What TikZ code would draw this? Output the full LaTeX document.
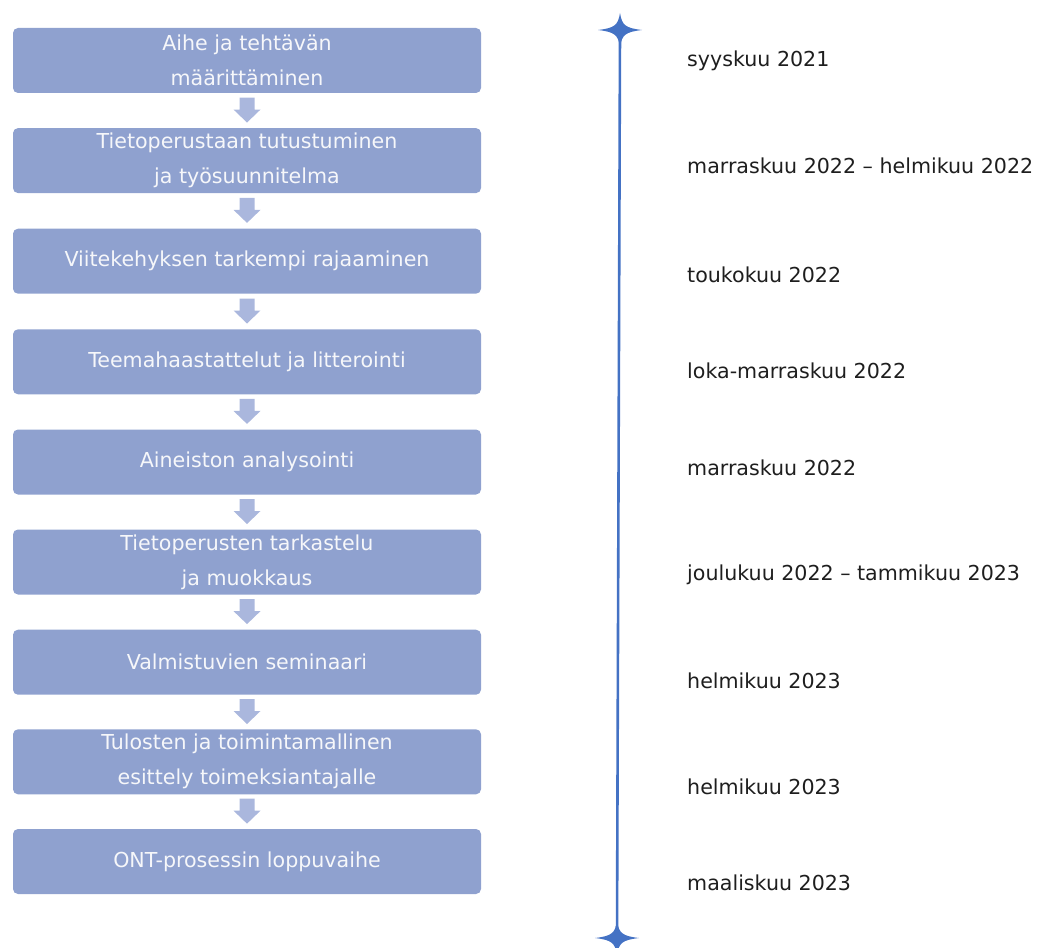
\documentclass[tikz,border=0pt]{standalone}
\usepackage{fontspec}
\setmainfont{DejaVu Sans}
\usetikzlibrary{calc}

\definecolor{boxfill}{RGB}{143,161,207}
\definecolor{arrowfill}{RGB}{170,183,221}
\definecolor{boxtext}{RGB}{246,247,250}
\definecolor{timeline}{RGB}{68,114,196}
\definecolor{datetext}{RGB}{30,30,30}

\tikzset{
  stepbox/.style={draw=none, fill=boxfill, rounded corners=5pt,
    minimum width=468pt, minimum height=65pt, inner sep=0pt,
    align=center, text=boxtext,
    font=\fontsize{20.6}{35}\selectfont},
  datelabel/.style={anchor=base west, inner sep=0pt, text=datetext,
    font=\fontsize{20.6}{25}\selectfont},
  flowarrow/.style={fill=arrowfill},
  pics/sparkle/.style={code={
    \fill[timeline] (0,-17) .. controls (2,-5) and (5,-2) .. (22,0)
      .. controls (5,2) and (2,5) .. (0,17)
      .. controls (-2,5) and (-5,2) .. (-22,0)
      .. controls (-5,-2) and (-2,-5) .. (0,-17) -- cycle;
  }}
}

\begin{document}
\begin{tikzpicture}[x=1pt,y=-1pt]
  \useasboundingbox (0,0) rectangle (1040,947);

  % process steps
  \node[stepbox] (b1) at (247,60.5)  {Aihe ja tehtävän\\määrittäminen};
  \node[stepbox] (b2) at (247,160.6) {Tietoperustaan tutustuminen\\ja työsuunnitelma};
  \node[stepbox] (b3) at (247,261.2) {Viitekehyksen tarkempi rajaaminen};
  \node[stepbox] (b4) at (247,361.8) {Teemahaastattelut ja litterointi};
  \node[stepbox] (b5) at (247,462)   {Aineiston analysointi};
  \node[stepbox] (b6) at (247,562)   {Tietoperusten tarkastelu\\ja muokkaus};
  \node[stepbox] (b7) at (247,662.2) {Valmistuvien seminaari};
  \node[stepbox] (b8) at (247,761.8) {Tulosten ja toimintamallinen\\esittely toimeksiantajalle};
  \node[stepbox] (b9) at (247,861.5) {ONT-prosessin loppuvaihe};

  % block arrows between consecutive steps
  \foreach \i [evaluate=\i as \j using int(\i+1)] in {1,...,8} {
    \path (b\i.south) -- (b\j.north) coordinate[pos=0.5] (m\i);
    \fill[flowarrow] ($(m\i)+(-7.5,-13)$) -- ($(m\i)+(7.5,-13)$)
      -- ($(m\i)+(7.5,-1)$) -- ($(m\i)+(13.5,-1)$) -- ($(m\i)+(0,12)$)
      -- ($(m\i)+(-13.5,-1)$) -- ($(m\i)+(-7.5,-1)$) -- cycle;
  }

  % timeline
  \coordinate (tstart) at (620,30);
  \coordinate (tend) at (617,938);
  \draw[timeline, line width=2.6pt] (tstart) -- (tend);
  \pic at (tstart) {sparkle};
  \pic at (tend) {sparkle};

  % dates
  \node[datelabel] (d1) at (687,67)  {syyskuu 2021};
  \node[datelabel] (d2) at (687,173) {marraskuu 2022 – helmikuu 2022};
  \node[datelabel] (d3) at (687,282) {toukokuu 2022};
  \node[datelabel] (d4) at (687,378) {loka-marraskuu 2022};
  \node[datelabel] (d5) at (687,475) {marraskuu 2022};
  \node[datelabel] (d6) at (687,580) {joulukuu 2022 – tammikuu 2023};
  \node[datelabel] (d7) at (687,688) {helmikuu 2023};
  \node[datelabel] (d8) at (687,794) {helmikuu 2023};
  \node[datelabel] (d9) at (687,890) {maaliskuu 2023};
\end{tikzpicture}
\end{document}
